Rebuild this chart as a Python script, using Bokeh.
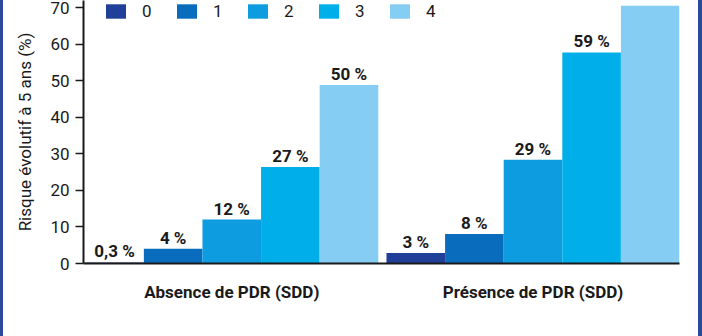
from bokeh.plotting import figure
from bokeh.models import ColumnDataSource, FixedTicker, Legend, LegendItem, Range1d
from bokeh.core.properties import value
from bokeh.embed import file_html
from bokeh.resources import INLINE

groups = ["Absence de PDR (SDD)", "Présence de PDR (SDD)"]
series = ["0", "1", "2", "3", "4"]
# values per series: [absence, presence]
values = {
    "0": [0.3, 2.9],
    "1": [4.0, 8.1],
    "2": [12.0, 28.4],
    "3": [26.4, 57.7],
    "4": [48.8, 70.5],
}
labels = {
    "0": ["0,3 %", "3 %"],
    "1": ["4 %", "8 %"],
    "2": ["12 %", "29 %"],
    "3": ["27 %", "59 %"],
    "4": ["50 %", ""],
}
colors = ["#1f3f98", "#0a6cbc", "#0e9ce0", "#00afe9", "#85cdf2"]
yticks = [0, 10, 20, 30, 40, 50, 60, 70]

GAP = 0.14
n = len(series)
def xpos(g, s):
    return g * (n + GAP) + s + 0.5

FONT = "Roboto"
p = figure(width=695, height=336, frame_width=596, frame_height=263,
           min_border_left=80, min_border_top=0, min_border_right=19, min_border_bottom=73,
           x_range=Range1d(-0.03, n * 2 + GAP), y_range=Range1d(0, 71.91),
           output_backend="svg", toolbar_location=None)
p.styles = {"border-left": "3px solid #2b4a9d", "border-right": "4px solid #2b4a9d"}
p.background_fill_color = "white"
p.border_fill_color = "white"
p.outline_line_color = None
p.xgrid.visible = False
p.ygrid.visible = False

items = []
for si, s in enumerate(series):
    src = ColumnDataSource(dict(
        x=[xpos(g, si) for g in range(len(groups))],
        top=values[s],
        lab=labels[s],
    ))
    r = p.vbar(x="x", top="top", width=1.0, bottom=0, source=src,
               fill_color=colors[si], line_color=None)
    p.text(x="x", y="top", text="lab", source=src, text_align="center",
           text_baseline="alphabetic", y_offset=-11, text_font=value(FONT),
           text_font_style="bold", text_font_size="17px", text_color="#1a1a1a")
    items.append(LegendItem(label=s, renderers=[r]))

leg = Legend(items=items, orientation="horizontal", location=(20, 242),
             glyph_width=25, glyph_height=18, label_standoff=14, label_width=20,
             spacing=12, padding=0, margin=0, border_line_color=None,
             background_fill_alpha=0, label_text_font=FONT,
             label_text_font_size="17px", label_text_color="#1a1a1a")
p.add_layout(leg, "center")

ya = p.yaxis[0]
ya.ticker = FixedTicker(ticks=yticks)
ya.axis_label = "Risque évolutif à 5 ans (%)"
ya.axis_label_text_font = FONT
ya.axis_label_text_font_style = "normal"
ya.axis_label_text_font_size = "17px"
ya.axis_label_text_color = "#1a1a1a"
ya.axis_label_standoff = 12
ya.major_label_text_font = FONT
ya.major_label_text_font_size = "17px"
ya.major_label_text_color = "#1a1a1a"
ya.major_label_standoff = 6
ya.major_tick_out = 8
ya.major_tick_in = 0
ya.minor_tick_out = 0
ya.minor_tick_in = 0
ya.axis_line_width = 2
ya.major_tick_line_width = 1.5
ya.axis_line_color = "#1a1a1a"
ya.major_tick_line_color = "#1a1a1a"

xa = p.xaxis[0]
centers = [xpos(g, (n - 1) / 2) for g in range(len(groups))]
xa.ticker = FixedTicker(ticks=centers)
xa.major_label_overrides = {c: g for c, g in zip(centers, groups)}
xa.major_label_text_font = FONT
xa.major_label_text_font_style = "bold"
xa.major_label_text_font_size = "17px"
xa.major_label_text_color = "#1a1a1a"
xa.major_label_standoff = 18
xa.major_tick_out = 0
xa.major_tick_in = 0
xa.minor_tick_out = 0
xa.minor_tick_in = 0
xa.axis_line_width = 2
xa.axis_line_color = "#1a1a1a"

open("out.html", "w").write(file_html(p, INLINE))
